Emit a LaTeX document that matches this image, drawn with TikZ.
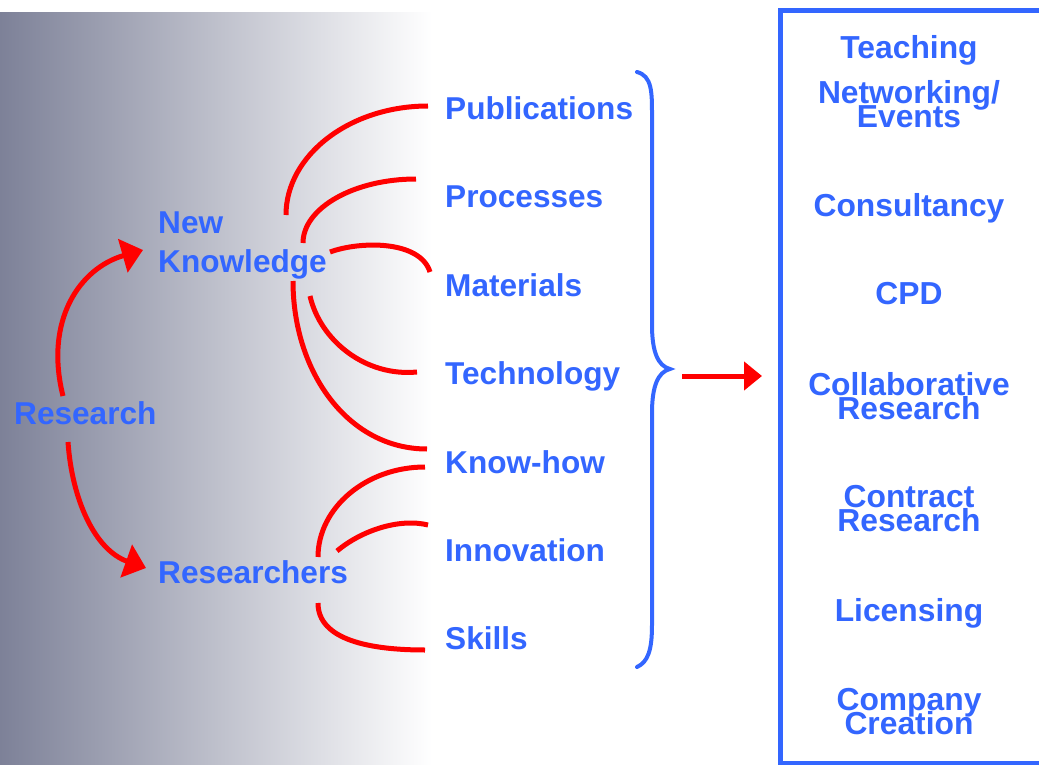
\documentclass[tikz,border=0pt]{standalone}
\usepackage{fontspec}
\setmainfont{Liberation Sans}
\usetikzlibrary{arrows.meta,positioning}
\definecolor{lblue}{RGB}{51,102,255}
\definecolor{bgdark}{RGB}{125,129,152}
\newcommand\tightlines{\lineskiplimit=-50pt\relax}
\tikzset{
  lbl/.style={text=lblue, inner sep=0pt, font=\bfseries\fontsize{31.6}{39}\selectfont},
  outlbl/.style={lbl, align=center, anchor=north, font=\bfseries\fontsize{31.8}{24.5}\selectfont\tightlines},
  fan/.style={draw=red, line width=5pt},
  redarr/.style={fan, -{Triangle[length=21pt,width=34pt]}},
  hredarr/.style={fan, -{Triangle[length=18pt,width=28pt]}},
  bracest/.style={draw=lblue, line width=4pt, line cap=round},
}
\begin{document}
\begin{tikzpicture}[x=1pt,y=-1pt]
                \useasboundingbox (0,0) rectangle (1039,765);
                \shade[left color=bgdark, right color=white] (0,13) rectangle (432,765); % fondo
                % izquierda
                \node[lbl, anchor=base west] (res) at (14,424) {Research};
                \node[lbl, anchor=north west, align=left] (nk) at (158,212) {New\\Knowledge};
                \node[lbl, anchor=base west] (rsr) at (158,583) {Researchers};
                \draw[redarr] (63,396) .. controls (44,320) and (80,268) .. (143,250); % hacia nk
                \draw[redarr] (68,442) .. controls (72,500) and (95,550) .. (146,568); % hacia rsr
                % columna central
                \foreach \name/\txt [count=\i from 0] in {pub/Publications,proc/Processes,mat/Materials,tech/Technology,know/Know-how,inno/Innovation,skill/Skills}
                \node[lbl, anchor=base west] (\name) at (445,{119.5+88.4*\i}) {\txt};
                \draw[fan] (286,215) .. controls (286,155) and (350,106) .. (428,106);
                \draw[fan] (303,243) .. controls (303,208) and (354,179) .. (416,179);
                \draw[fan] (330,252) .. controls (360,241) and (420,240) .. (430,272);
                \draw[fan] (310,296) .. controls (320,340) and (365,377) .. (417,372);
                \draw[fan] (293,281) .. controls (293,372) and (348,449) .. (427,449);
                \draw[fan] (318,557) .. controls (318,508) and (366,467) .. (425,467);
                \draw[fan] (337,551) .. controls (362,530) and (400,518) .. (428,525);
                \draw[fan] (318,603) .. controls (318,640) and (370,650) .. (425,650);
                % llave
                \draw[bracest] (637,72) .. controls (652,76) and (652,92) .. (652,115) -- (652,325)
                  .. controls (652,352) and (658,366) .. (670,369)
                  .. controls (658,372) and (652,386) .. (652,413) -- (652,625)
                  .. controls (652,650) and (648,662) .. (637,667);
                % caja derecha
                \node[draw=lblue, line width=5pt, minimum width=270pt, minimum height=753pt,
                  anchor=north west, inner sep=0pt, outer sep=0pt] (box) at (780,10.5) {};
                \coordinate (brtip) at (682,376);
                \draw[hredarr, shorten >=18pt] (brtip) -- (brtip -| box.west);
                \node[outlbl] (teach) at (909,35) {Teaching};
                \node[outlbl] (netw) at (909,80) {Networking/\\Events};
                \node[outlbl] (cons) at (909,193) {Consultancy};
                \node[outlbl] (cpd) at (909,282) {CPD};
                \node[outlbl] (collab) at (909,372) {Collaborative\\Research};
                \node[outlbl] (contr) at (909,485) {Contract\\Research};
                \node[outlbl] (lic) at (909,598) {Licensing};
                \node[outlbl] (comp) at (909,688) {Company\\Creation};
\end{tikzpicture}
\end{document}
